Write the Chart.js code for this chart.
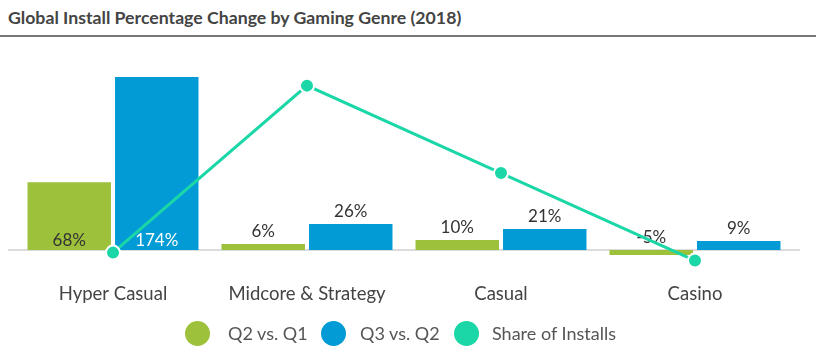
<!DOCTYPE html>
<html><head><meta charset="utf-8">
<script src="https://cdn.jsdelivr.net/npm/chart.js@4/dist/chart.umd.min.js"></script>
<style>
html,body{margin:0;padding:0;background:#fff;}
#wrap{position:relative;width:816px;height:354px;overflow:hidden;font-family:Lato,"Open Sans",sans-serif;}
#title{position:absolute;left:0;top:0;width:816px;height:35px;border-bottom:2px solid #777;box-sizing:content-box;}
#title span{position:absolute;left:8px;top:7px;font-size:17.7px;font-weight:bold;color:#444;white-space:nowrap;}
canvas{position:absolute;left:0;top:0;}
#legend{position:absolute;left:0;top:320px;width:816px;height:28px;}
.dot{position:absolute;top:1px;width:25px;height:25px;border-radius:50%;}
.lt{position:absolute;top:0;height:26px;line-height:26px;font-size:18px;color:#555;white-space:nowrap;}
</style></head>
<body><div id="wrap">
<div id="title"><span>Global Install Percentage Change by Gaming Genre (2018)</span></div>
<canvas id="c" width="816" height="354"></canvas>
<div id="legend"></div>
</div>
<script>
const categories = ["Hyper Casual", "Midcore & Strategy", "Casual", "Casino"];
const q2VsQ1 = [68, 6, 10, -5];
const q3VsQ2 = [174, 26, 21, 9];
const shareOfInstalls = [9, 30, 19, 8];
const seriesNames = ["Q2 vs. Q1", "Q3 vs. Q2", "Share of Installs"];
const colors = ["#9dc13b", "#029bd6", "#1bd6a6"];

const labelPlugin = {
  id: 'vlabels',
  beforeDatasetsDraw(chart) {
    const ctx = chart.ctx, y = chart.scales.y;
    const y0 = y.getPixelForValue(0);
    ctx.save();
    ctx.strokeStyle = '#dcdcdc';
    ctx.lineWidth = 2;
    ctx.beginPath();
    ctx.moveTo(8, y0); ctx.lineTo(800, y0);
    ctx.stroke();
    ctx.restore();
  },
  afterDatasetDraw(chart, args) {
    const meta = args.meta;
    if (meta.type !== 'bar') return;
    const ctx = chart.ctx;
    const ds = chart.data.datasets[args.index];
    const isBlue = ds.label === seriesNames[1];
    ctx.save();
    ctx.font = '17px Lato, "Open Sans", sans-serif';
    ctx.textAlign = 'center';
    ctx.textBaseline = 'bottom';
    meta.data.forEach((bar, i) => {
      const v = ds.data[i];
      const txt = v + '%';
      let ty, col = '#333';
      if (v > 50) {
        ty = bar.base - 1;
        col = isBlue ? '#ffffff' : '#333';
      } else {
        ty = Math.min(bar.y, bar.base) - 4;
      }
      ctx.fillStyle = col;
      ctx.fillText(txt, bar.x, ty);
    });
    ctx.restore();
  }
};

new Chart(document.getElementById('c'), {
  data: {
    labels: categories,
    datasets: [
      { type: 'line', label: seriesNames[2], data: shareOfInstalls, yAxisID: 'y2', order: 0,
        borderColor: colors[2], backgroundColor: colors[2], borderWidth: 3,
        pointRadius: 7, pointBorderColor: '#fff', pointBorderWidth: 2, pointBackgroundColor: colors[2], tension: 0 },
      { type: 'bar', label: seriesNames[0], data: q2VsQ1, yAxisID: 'y', order: 1,
        backgroundColor: colors[0], categoryPercentage: 0.902, barPercentage: 0.954 },
      { type: 'bar', label: seriesNames[1], data: q3VsQ2, yAxisID: 'y', order: 1,
        backgroundColor: colors[1], categoryPercentage: 0.902, barPercentage: 0.954 }
    ]
  },
  options: {
    responsive: false,
    animation: false,
    layout: { padding: { top: 71, left: 16, right: 24, bottom: 36 } },
    plugins: { legend: { display: false }, tooltip: { enabled: false }, title: { display: false } },
    scales: {
      x: { grid: { display: false, drawTicks: false }, border: { display: false },
           ticks: { color: '#444', font: { size: 18.5, family: 'Lato, "Open Sans", sans-serif' }, padding: 13 } },
      y: { display: false, min: -20, max: 180 },
      y2: { display: false, min: 6.84, max: 31.84 }
    }
  },
  plugins: [labelPlugin]
});

// legend (HTML)
const legend = document.getElementById('legend');
const dotCenters = [197, 333, 466];
const textLefts = [228, 360, 492];
seriesNames.forEach((n, i) => {
  const d = document.createElement('div');
  d.className = 'dot';
  d.style.left = (dotCenters[i] - 12.5) + 'px';
  d.style.background = colors[i];
  legend.appendChild(d);
  const t = document.createElement('div');
  t.className = 'lt';
  t.style.left = textLefts[i] + 'px';
  t.textContent = n;
  legend.appendChild(t);
});
</script>
</body></html>
